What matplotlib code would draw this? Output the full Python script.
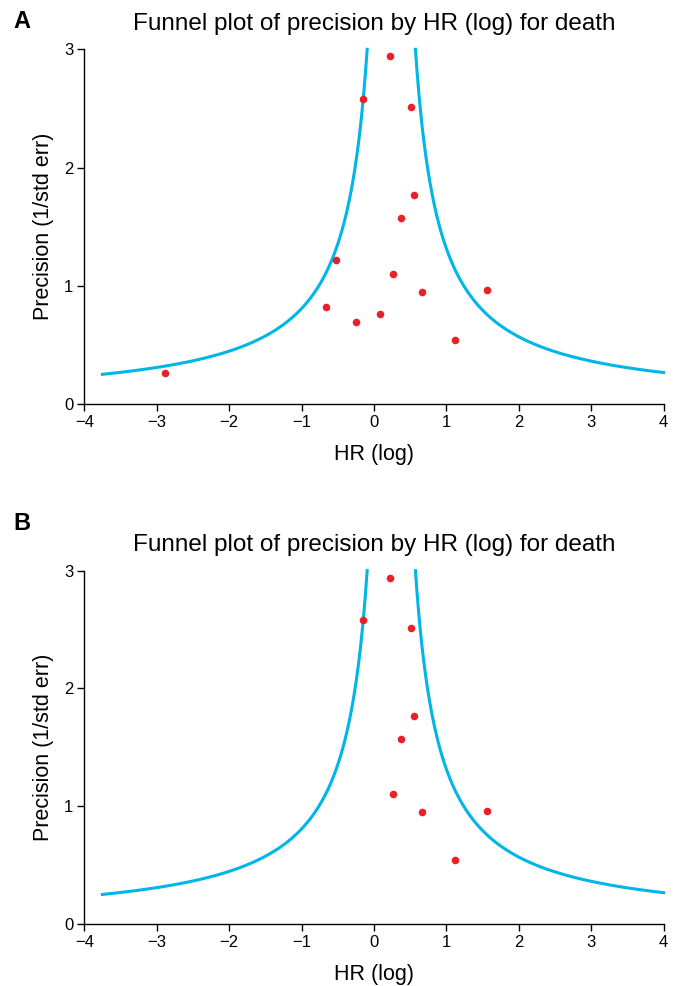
import numpy as np
import matplotlib.pyplot as plt

# study estimates: log HR and precision (1/SE)
hr_a = [-2.88, -0.66, -0.53, -0.25, -0.15, 0.08, 0.22, 0.27, 0.37, 0.51, 0.55, 0.67, 1.12, 1.56]
prec_a = [0.26, 0.82, 1.22, 0.69, 2.58, 0.76, 2.94, 1.10, 1.57, 2.51, 1.77, 0.95, 0.54, 0.96]

hr_b = [-0.15, 0.22, 0.27, 0.37, 0.51, 0.55, 0.67, 1.12, 1.56]
prec_b = [2.58, 2.94, 1.10, 1.57, 2.51, 1.77, 0.95, 0.54, 0.96]

# funnel: pooled log HR and half-width multiplier
center = 0.24
mult = 1.0
curve_left_start = -3.75

title = "Funnel plot of precision by HR (log) for death"
xticks = [-4, -3, -2, -1, 0, 1, 2, 3, 4]
yticks = [0, 1, 2, 3]

plt.rcParams['font.family'] = ['Liberation Sans', 'DejaVu Sans']

LINE_COLOR = '#00b5e8'
DOT_COLOR = '#e8202a'


def funnel_panel(ax, xs, ys):
    top = 3.0
    xl = np.linspace(curve_left_start, center - mult / top, 300)
    xr = np.linspace(center + mult / top, 4, 300)
    ax.plot(xl, mult / np.abs(xl - center), color=LINE_COLOR, lw=2.2, clip_on=False)
    ax.plot(xr, mult / np.abs(xr - center), color=LINE_COLOR, lw=2.2, clip_on=False)
    ax.scatter(xs, ys, s=30, color=DOT_COLOR, zorder=3, linewidths=0)

    ax.set_xlim(-4, 4)
    ax.set_ylim(0, 3)
    ax.set_xticks(xticks)
    ax.set_yticks(yticks)
    ax.spines['top'].set_visible(False)
    ax.spines['right'].set_visible(False)
    for s in ('left', 'bottom'):
        ax.spines[s].set_linewidth(1.0)
    ax.tick_params(direction='out', length=5, width=1.0, labelsize=12, pad=3)
    ax.set_xlabel("HR (log)", fontsize=15.5, labelpad=10)
    ax.set_ylabel("Precision (1/std err)", fontsize=15.5, labelpad=7)
    ax.set_title(title, fontsize=17.5, pad=14)


fig = plt.figure(figsize=(6.78, 9.86), dpi=100)

ax_a = fig.add_axes([0.1243, 0.5903, 0.8544, 0.3597])
funnel_panel(ax_a, hr_a, prec_a)

ax_b = fig.add_axes([0.1243, 0.0629, 0.8544, 0.3583])
funnel_panel(ax_b, hr_b, prec_b)

fig.text(22 / 678, 1 - 22 / 986, "A", fontsize=17, fontweight='bold', ha='center', va='center')
fig.text(22 / 678, 1 - 523 / 986, "B", fontsize=17, fontweight='bold', ha='center', va='center')

fig.savefig("out.png", dpi=100)
